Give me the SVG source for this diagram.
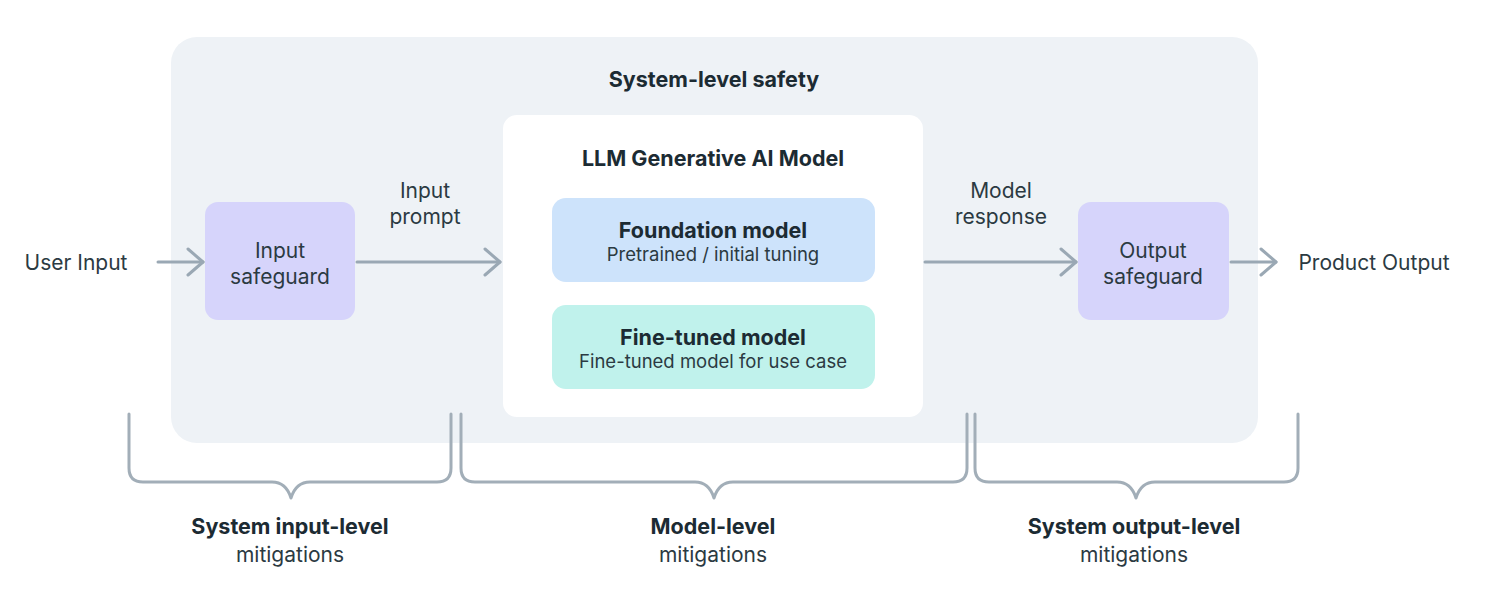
<svg xmlns="http://www.w3.org/2000/svg" width="1491" height="590" viewBox="0 0 1491 590">
<defs>
<marker id="chev" viewBox="0 0 20 30" refX="18" refY="15" markerWidth="20" markerHeight="30" markerUnits="userSpaceOnUse" orient="auto">
<path d="M3 2 L18 15 L3 28" fill="none" stroke="#9aa8b4" stroke-width="3" stroke-linecap="round" stroke-linejoin="round"/>
</marker>
</defs>
<style>
text{font-family:Inter,"Noto Sans","Liberation Sans",sans-serif;fill:#1c2b33;text-anchor:middle}
.b{font-weight:700;font-size:21.5px}
.n{font-size:21px;fill:#2b3a42}
.s{font-size:18.5px;fill:#2b3a42}
.lbl{font-size:21px;fill:#2b3a42}
.conn{fill:none;stroke:#9aa8b4;stroke-width:3;stroke-linecap:round}
.brace{fill:none;stroke:#a2aeb8;stroke-width:3;stroke-linecap:round;stroke-linejoin:round}
</style>
<rect width="1491" height="590" fill="#ffffff"/>
<g id="system-level-safety">
<rect x="171" y="37" width="1087" height="406" rx="26" fill="#eef2f6"/>
<text class="b" x="714" y="87">System-level safety</text>
</g>
<g id="llm-model">
<rect x="503" y="115" width="420" height="302" rx="14" fill="#ffffff"/>
<text class="b" x="713" y="166">LLM Generative AI Model</text>
</g>
<g id="foundation-model">
<rect x="552" y="198" width="323" height="84" rx="14" fill="#cde3fb"/>
<text class="b" x="713" y="238">Foundation model</text>
<text class="s" x="713" y="261">Pretrained / initial tuning</text>
</g>
<g id="fine-tuned-model">
<rect x="552" y="305" width="323" height="84" rx="14" fill="#c0f2ec"/>
<text class="b" x="713" y="345">Fine-tuned model</text>
<text class="s" x="713" y="368">Fine-tuned model for use case</text>
</g>
<g id="input-safeguard">
<rect x="205" y="202" width="150" height="118" rx="13" fill="#d6d4fb"/>
<text class="n" x="280" y="258">Input</text>
<text class="n" x="280" y="284">safeguard</text>
</g>
<g id="output-safeguard">
<rect x="1078" y="202" width="151" height="118" rx="13" fill="#d6d4fb"/>
<text class="n" x="1153" y="258">Output</text>
<text class="n" x="1153" y="284">safeguard</text>
</g>
<g id="user-input"><text class="lbl" x="76" y="270">User Input</text></g>
<g id="product-output"><text class="lbl" x="1374" y="270">Product Output</text></g>
<g id="connectors">
<line class="conn" x1="158" y1="262" x2="203" y2="262" marker-end="url(#chev)"/>
<line class="conn" x1="357" y1="262" x2="500" y2="262" marker-end="url(#chev)"/>
<line class="conn" x1="925" y1="262" x2="1076" y2="262" marker-end="url(#chev)"/>
<line class="conn" x1="1231" y1="262" x2="1276" y2="262" marker-end="url(#chev)"/>
<text class="lbl" x="425" y="198">Input</text>
<text class="lbl" x="425" y="224">prompt</text>
<text class="lbl" x="1001" y="198">Model</text>
<text class="lbl" x="1001" y="224">response</text>
</g>
<g id="brace-input">
<path class="brace" d="M129 414 V468 Q129 482 143 482 H272 Q286 482 291 498 Q296 482 310 482 H437 Q451 482 451 468 V414"/>
<text class="b" x="290" y="534">System input-level</text>
<text class="n" x="290" y="562">mitigations</text>
</g>
<g id="brace-model">
<path class="brace" d="M461 414 V468 Q461 482 475 482 H695 Q709 482 714 498 Q719 482 733 482 H953 Q967 482 967 468 V414"/>
<text class="b" x="713" y="534">Model-level</text>
<text class="n" x="713" y="562">mitigations</text>
</g>
<g id="brace-output">
<path class="brace" d="M975 414 V468 Q975 482 989 482 H1117 Q1131 482 1136 498 Q1141 482 1155 482 H1284 Q1298 482 1298 468 V414"/>
<text class="b" x="1134" y="534">System output-level</text>
<text class="n" x="1134" y="562">mitigations</text>
</g>
</svg>
